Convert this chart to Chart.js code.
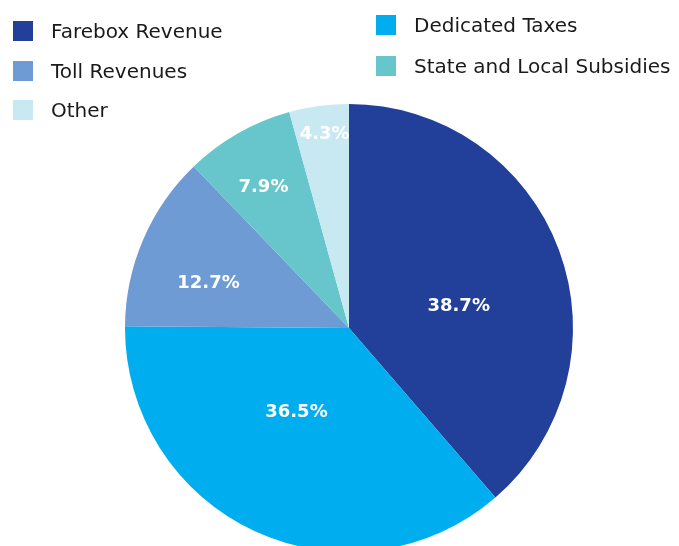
<!DOCTYPE html>
<html>
<head>
<meta charset="utf-8">
<script src="https://cdn.jsdelivr.net/npm/chart.js@4.4.0/dist/chart.umd.min.js"></script>
<style>
  body { margin: 0; background: #fff; }
  #wrap { position: relative; width: 679px; height: 546px; overflow: hidden; }
  #grafico { position: absolute; left: 0; top: 0; }
  .leg { position: absolute; display: flex; align-items: center; font-family: "DejaVu Sans", sans-serif; font-size: 20px; color: #1a1a1a; white-space: nowrap; }
  .leg span.box { width: 20px; height: 20px; margin-right: 18px; flex: none; }
</style>
</head>
<body>
<div id="wrap">
  <canvas id="grafico" width="679" height="560"></canvas>
</div>
<script>
// fatias no sentido horário, a partir do topo
const categorias = ["Farebox Revenue", "Dedicated Taxes", "Toll Revenues", "State and Local Subsidies", "Other"];
const percentuais = [38.7, 36.5, 12.7, 7.9, 4.3];
const cores = ["#223f99", "#00aeef", "#6e9bd3", "#66c6cc", "#c8e8f2"];

// colunas da legenda (índices em categorias)
const legendaEsq = [0, 2, 4];
const legendaDir = [1, 3];

// ajuste dos rótulos: fração do raio e giro em graus
const rotuloRaio = [0.50, 0.44, 0.66, 0.74, 0.875];
const rotuloGiro = [8.8, 7.4, -5.2, -1.4, 0.6];

function montarLegenda() {
  const wrap = document.getElementById("wrap");
  const add = (i, x, y) => {
    const el = document.createElement("div");
    el.className = "leg";
    el.style.left = x + "px";
    el.style.top = y + "px";
    el.innerHTML = `<span class="box" style="background:${cores[i]}"></span>${categorias[i]}`;
    wrap.appendChild(el);
  };
  legendaEsq.forEach((i, k) => add(i, 13, 19 + k * 39.5));
  legendaDir.forEach((i, k) => add(i, 376, 13 + k * 41));
}

const rotulos = {
  id: "rotulos",
  afterDatasetsDraw(chart) {
    const ctx = chart.ctx;
    const arcs = chart.getDatasetMeta(0).data;
    ctx.save();
    ctx.fillStyle = "#fff";
    ctx.font = "bold 18px 'DejaVu Sans'";
    ctx.textAlign = "center";
    ctx.textBaseline = "middle";
    arcs.forEach((a, i) => {
      const ang = (a.startAngle + a.endAngle) / 2 + rotuloGiro[i] * Math.PI / 180;
      const r = a.outerRadius * rotuloRaio[i];
      ctx.fillText(percentuais[i].toFixed(1) + "%", a.x + Math.cos(ang) * r, a.y + Math.sin(ang) * r + 1);
    });
    ctx.restore();
  }
};

let grafico;
function desenharGrafico() {
  const ctx = document.getElementById("grafico").getContext("2d");
  grafico = new Chart(ctx, {
    type: "pie",
    data: {
      labels: categorias,
      datasets: [{
        data: percentuais,
        backgroundColor: cores,
        borderWidth: 0
      }]
    },
    options: {
      responsive: false,
      animation: false,
      layout: { padding: { left: 125, right: 106, top: 104, bottom: 8 } },
      plugins: { legend: { display: false }, tooltip: { enabled: false } }
    },
    plugins: [rotulos]
  });
}

montarLegenda();
desenharGrafico();
</script>
</body>
</html>
